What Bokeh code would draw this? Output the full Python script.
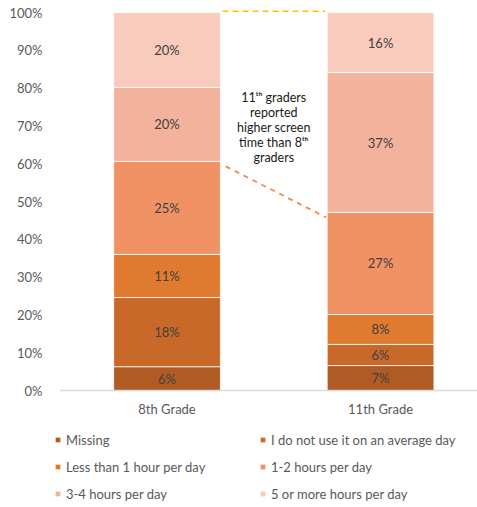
import numpy as np
from bokeh.plotting import figure
from bokeh.models import (ColumnDataSource, Range1d, FixedTicker, NumeralTickFormatter,
                          Legend, LegendItem)
from bokeh.core.properties import value
from bokeh.embed import file_html
from bokeh.resources import INLINE

# ---------------- data ----------------
grades = ["8th Grade", "11th Grade"]
categories = ["Missing", "I do not use it on an average day", "Less than 1 hour per day",
              "1-2 hours per day", "3-4 hours per day", "5 or more hours per day"]
grade8 = [6.3, 18.3, 11.4, 24.6, 19.6, 19.8]      # percent
grade11 = [6.6, 5.6, 7.9, 27.0, 37.0, 15.9]       # percent
colors = ["#B15B24", "#C8692A", "#E07A30", "#F09264", "#F3B29B", "#F8CBBD"]
y_ticks = [0.0, 0.1, 0.2, 0.3, 0.4, 0.5, 0.6, 0.7, 0.8, 0.9, 1.0]
note_lines = ["11\u1d57\u02b0 graders", "reported", "higher screen", "time than 8\u1d57\u02b0", "graders"]

FONT = "Lato"
GREY = "#595959"

xs = list(range(len(grades)))
stackers = [f"s{i}" for i in range(len(categories))]
src_data = {"x": xs}
for i in range(len(categories)):
    src_data[stackers[i]] = [grade8[i] / 100, grade11[i] / 100]
src = ColumnDataSource(src_data)

# frame spans the whole height below the top border; 0% sits 117px above the bottom
p = figure(width=477, height=507, output_backend="svg", toolbar_location=None,
           x_range=Range1d(-0.527, 1.454), y_range=Range1d(-0.3095, 1.0053),
           x_axis_location=None,
           min_border_left=54, min_border_right=0, min_border_top=10, min_border_bottom=0)
p.outline_line_color = None
p.grid.visible = False

renderers = p.vbar_stack(stackers, x="x", width=0.5, color=colors, source=src,
                         line_color="white", line_width=0.8)

# x "axis" line and category labels
p.segment(x0=[xs[0] - 0.5], y0=[0], x1=[xs[-1] + 0.6], y1=[0],
          line_color="#D9D9D9", line_width=1.5)
p.text(x=xs, y=[0] * len(xs), text=grades, y_offset=18, text_align="center",
       text_baseline="middle", text_font=value(FONT), text_font_size=value("13px"),
       text_color=GREY)

# data labels
lx, ly, lt = [], [], []
for gi, vals in enumerate([grade8, grade11]):
    cum = np.cumsum(vals) / 100
    for v, c in zip(vals, cum):
        lx.append(xs[gi])
        ly.append(c - v / 200)
        lt.append(f"{round(v):.0f}%")
p.text(x=lx, y=ly, text=lt, text_align="center", text_baseline="middle",
       text_font=value(FONT), text_font_size=value("13px"), text_color="#404040")

# connecting dashed lines
cum8 = np.cumsum(grade8) / 100
cum11 = np.cumsum(grade11) / 100
p.segment(x0=[xs[0] + 0.26], y0=[cum8[-1] + 0.004], x1=[xs[1] - 0.26], y1=[cum11[-1] + 0.004],
          line_color="#FFC000", line_width=2, line_dash="6 4")
p.segment(x0=[xs[0] + 0.275], y0=[cum8[3] - 0.013], x1=[xs[1] - 0.255], y1=[cum11[3] - 0.013],
          line_color="#F08A45", line_width=1.8, line_dash="5 5")

# note
p.text(x=[(xs[0] + xs[1]) / 2], y=[0.697], text=["\n".join(note_lines)],
       text_align="center", text_baseline="middle", text_line_height=1.0,
       text_font=value(FONT), text_font_size=value("12.5px"), text_color="#1a1a1a")

# y axis
p.yaxis.ticker = FixedTicker(ticks=y_ticks)
p.yaxis.formatter = NumeralTickFormatter(format="0%")
p.yaxis.axis_line_color = None
p.yaxis.major_tick_line_color = None
p.yaxis.minor_tick_line_color = None
p.yaxis.major_label_standoff = 6
p.yaxis.major_label_text_font = FONT
p.yaxis.major_label_text_font_size = "13px"
p.yaxis.major_label_text_color = GREY

items = [LegendItem(label=c, renderers=[r]) for c, r in zip(categories, renderers)]
legend = Legend(items=items, orientation="horizontal", ncols=2, location=(0, 0),
                glyph_width=7, glyph_height=7, label_standoff=5, label_width=193,
                label_height=27, spacing=0, padding=0, margin=0,
                border_line_color=None, background_fill_alpha=0,
                label_text_font=FONT, label_text_font_size="13px", label_text_color=GREY)
p.add_layout(legend)

open("out.html", "w").write(file_html(p, INLINE))
